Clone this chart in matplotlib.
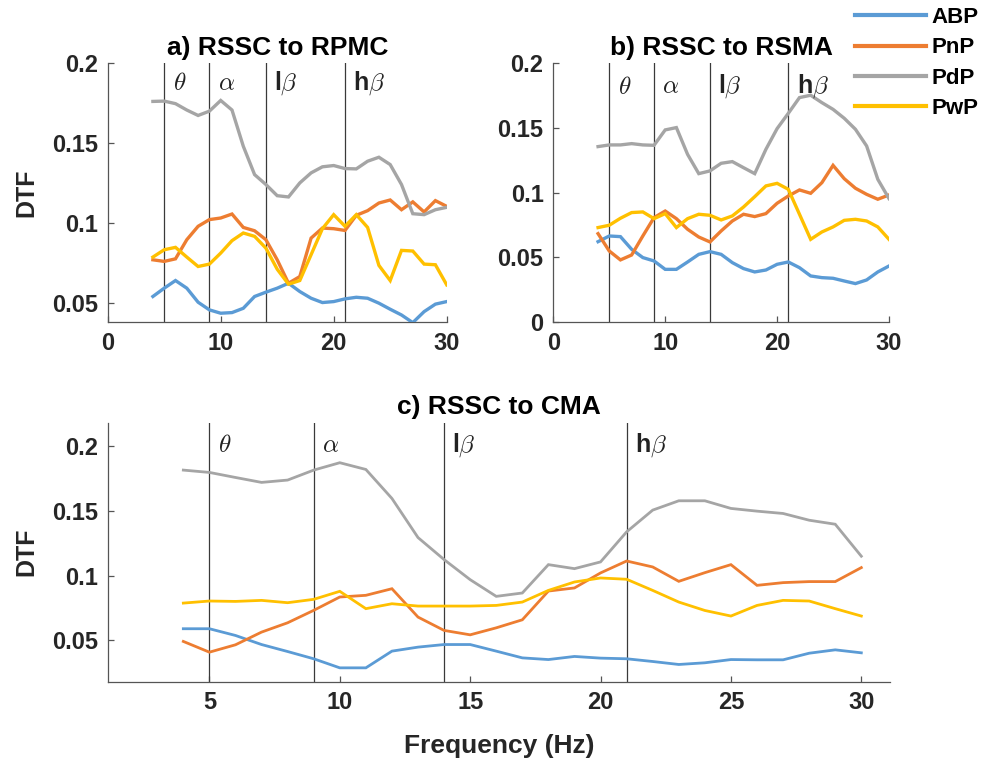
import numpy as np
import matplotlib
matplotlib.use("Agg")
import matplotlib.pyplot as plt
from matplotlib.ticker import FuncFormatter

plt.rcParams['font.family'] = ['Liberation Sans', 'DejaVu Sans']
plt.rcParams['font.weight'] = 'bold'
plt.rcParams['mathtext.fontset'] = 'cm'

freq = list(range(4, 31))
series_names = ['ABP', 'PnP', 'PdP', 'PwP']
colors = ['#5B9BD5', '#ED7D31', '#A5A5A5', '#FFC000']

a_ABP = [0.0538,0.0590,0.0638,0.0590,0.0502,0.0454,0.0433,0.0437,0.0464,0.0538,0.0565,0.0590,0.0621,0.0569,0.0527,0.0500,0.0506,0.0523,0.0533,0.0527,0.0496,0.0458,0.0422,0.0374,0.0443,0.0490,0.0506]
a_PnP = [0.0768,0.0758,0.0774,0.0894,0.0978,0.1020,0.1030,0.1055,0.0971,0.0950,0.0894,0.0768,0.0621,0.0663,0.0904,0.0967,0.0963,0.0952,0.1047,0.1076,0.1124,0.1143,0.1082,0.1131,0.1068,0.1139,0.1103]
a_PdP = [0.1761,0.1763,0.1747,0.1707,0.1673,0.1700,0.1767,0.1707,0.1480,0.1302,0.1240,0.1170,0.1162,0.1250,0.1313,0.1351,0.1359,0.1340,0.1338,0.1386,0.1411,0.1365,0.1240,0.1057,0.1051,0.1082,0.1097]
a_PwP = [0.0785,0.0831,0.0846,0.0785,0.0726,0.0741,0.0810,0.0888,0.0936,0.0915,0.0841,0.0709,0.0615,0.0638,0.0800,0.0963,0.1051,0.0978,0.1051,0.0971,0.0733,0.0638,0.0827,0.0823,0.0741,0.0737,0.0611]

b_ABP = [0.0621,0.0665,0.0660,0.0562,0.0498,0.0472,0.0407,0.0407,0.0464,0.0523,0.0544,0.0523,0.0459,0.0413,0.0387,0.0402,0.0446,0.0464,0.0420,0.0356,0.0343,0.0338,0.0317,0.0297,0.0325,0.0387,0.0433]
b_PnP = [0.0683,0.0549,0.0480,0.0518,0.0665,0.0807,0.0858,0.0799,0.0717,0.0657,0.0619,0.0704,0.0781,0.0833,0.0815,0.0838,0.0918,0.0974,0.1021,0.0995,0.1077,0.1211,0.1108,0.1034,0.0987,0.0949,0.0982]
b_PdP = [0.1356,0.1369,0.1369,0.1379,0.1369,0.1366,0.1485,0.1503,0.1296,0.1147,0.1168,0.1227,0.1240,0.1193,0.1147,0.1335,0.1495,0.1613,0.1735,0.1753,0.1696,0.1644,0.1575,0.1490,0.1361,0.1103,0.0954]
b_PwP = [0.0730,0.0748,0.0802,0.0846,0.0851,0.0799,0.0838,0.0730,0.0799,0.0833,0.0825,0.0789,0.0820,0.0889,0.0969,0.1052,0.1072,0.1026,0.0833,0.0639,0.0696,0.0735,0.0786,0.0794,0.0781,0.0735,0.0639]

c_ABP = [0.0589,0.0589,0.0537,0.0467,0.0413,0.0357,0.0287,0.0287,0.0416,0.0447,0.0467,0.0467,0.0416,0.0364,0.0351,0.0375,0.0362,0.0357,0.0336,0.0313,0.0326,0.0351,0.0349,0.0349,0.0400,0.0426,0.0403]
c_PnP = [0.0491,0.0408,0.0465,0.0563,0.0635,0.0731,0.0834,0.0847,0.0898,0.0679,0.0576,0.0542,0.0596,0.0658,0.0880,0.0904,0.1020,0.1112,0.1066,0.0955,0.1022,0.1084,0.0924,0.0945,0.0953,0.0953,0.1061]
c_PdP = [0.1814,0.1796,0.1757,0.1719,0.1737,0.1814,0.1871,0.1819,0.1595,0.1293,0.1123,0.0968,0.0839,0.0865,0.1084,0.1053,0.1105,0.1337,0.1505,0.1577,0.1577,0.1518,0.1497,0.1479,0.1427,0.1396,0.1149]
c_PwP = [0.0787,0.0803,0.0800,0.0808,0.0790,0.0816,0.0878,0.0744,0.0782,0.0764,0.0764,0.0764,0.0769,0.0795,0.0885,0.0950,0.0981,0.0971,0.0885,0.0795,0.0730,0.0687,0.0769,0.0808,0.0803,0.0744,0.0687]

band_edges = [5, 9, 14, 21]
band_labels = [r'$\theta$', r'$\alpha$', r'l$\beta$', r'h$\beta$']

titles = ['a) RSSC to RPMC', 'b) RSSC to RSMA', 'c) RSSC to CMA']
a_yticks = [0.05, 0.1, 0.15, 0.2]
b_yticks = [0, 0.05, 0.1, 0.15, 0.2]
c_yticks = [0.05, 0.1, 0.15, 0.2]
ab_xticks = [0, 10, 20, 30]
c_xticks = [5, 10, 15, 20, 25, 30]

W, H = 986, 758
fig = plt.figure(figsize=(W/100, H/100), dpi=100)

def rect(l, r, t, b):
    return [l/W, 1-b/H, (r-l)/W, (b-t)/H]

ax_a = fig.add_axes(rect(107.7, 446.7, 63.3, 322))
ax_b = fig.add_axes(rect(553.3, 889, 63.3, 322))
ax_c = fig.add_axes(rect(107.7, 890, 422.7, 681.7))

axcol = '#555555'
fmt = FuncFormatter(lambda v, p: ('%g' % round(v, 4)))

def style(ax, data, lw, xlim, ylim, xticks, yticks, title, label_y):
    for vals, c, n in zip(data, colors, series_names):
        ax.plot(freq, vals, color=c, lw=lw, label=n, solid_joinstyle='miter', zorder=3)
    for e, lab in zip(band_edges, band_labels):
        ax.axvline(e, color='#3a3a3a', lw=0.9, zorder=2)
        ax.annotate(lab, xy=(e, label_y), xycoords=('data', 'axes fraction'),
                    xytext=(6, 0), textcoords='offset points', ha='left', va='center',
                    fontsize=18, color='#222222', fontweight='bold')
    ax.set_xlim(*xlim)
    ax.set_ylim(*ylim)
    ax.set_xticks(xticks)
    ax.set_yticks(yticks)
    ax.yaxis.set_major_formatter(fmt)
    ax.spines['top'].set_visible(False)
    ax.spines['right'].set_visible(False)
    for s in ['left', 'bottom']:
        ax.spines[s].set_color(axcol)
        ax.spines[s].set_linewidth(0.9)
    ax.tick_params(direction='in', length=4, width=0.9, color=axcol,
                   labelsize=17, labelcolor='#262626', pad=7)
    for t in ax.get_xticklabels() + ax.get_yticklabels():
        t.set_fontweight('bold')
    ax.set_title(title, fontsize=19, fontweight='bold', pad=6)

style(ax_a, [a_ABP, a_PnP, a_PdP, a_PwP], 2.4, (0, 30), (0.0378, 0.2), ab_xticks, a_yticks, titles[0], 0.925)
style(ax_b, [b_ABP, b_PnP, b_PdP, b_PwP], 2.4, (0, 30), (0, 0.2), ab_xticks, b_yticks, titles[1], 0.91)
style(ax_c, [c_ABP, c_PnP, c_PdP, c_PwP], 2.0, (1.1, 31.1), (0.018, 0.218), c_xticks, c_yticks, titles[2], 0.915)

ax_a.set_ylabel('DTF', fontsize=18, fontweight='bold', color='#262626')
ax_a.yaxis.set_label_coords(-0.2056, 0.5)
ax_c.set_ylabel('DTF', fontsize=18, fontweight='bold', color='#262626')
ax_c.yaxis.set_label_coords(-0.0891, 0.5)
ax_c.set_xlabel('Frequency (Hz)', fontsize=19, fontweight='bold', color='#262626', labelpad=14)

handles, labels = ax_a.get_legend_handles_labels()
leg = fig.legend(handles, labels, loc='upper left', bbox_to_anchor=(855/W, 1 - 7/H),
                 frameon=False, borderpad=0, borderaxespad=0, handlelength=3.2,
                 handletextpad=0.25, labelspacing=0.42, prop={'size': 16, 'weight': 'bold'})
for line in leg.get_lines():
    line.set_linewidth(3)

fig.savefig('out.png', dpi=100)
